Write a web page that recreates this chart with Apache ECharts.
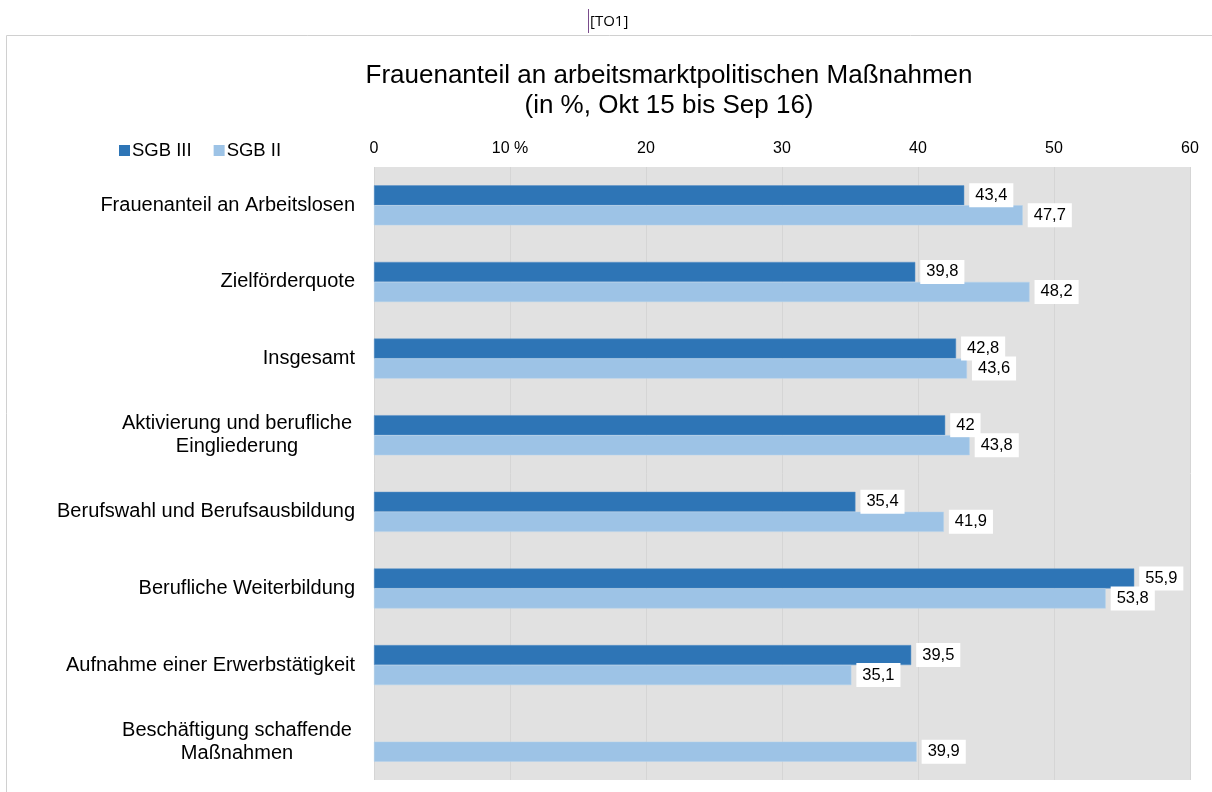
<!DOCTYPE html>
<html>
<head>
<meta charset="utf-8">
<script src="https://cdn.jsdelivr.net/npm/echarts@6/dist/echarts.min.js"></script>
<style>
    html, body { margin: 0; padding: 0; background: #fff; }
    #chart { width: 1212px; height: 792px; }
</style>
</head>
<body>
<div id="chart"></div>
<script>
    "use strict";
    var categories = [
        "Frauenanteil an Arbeitslosen",
        "Zielförderquote",
        "Insgesamt",
        "Aktivierung und berufliche\nEingliederung",
        "Berufswahl und Berufsausbildung",
        "Berufliche Weiterbildung",
        "Aufnahme einer Erwerbstätigkeit",
        "Beschäftigung schaffende\nMaßnahmen"
    ];
    var sgb3 = [43.4, 39.8, 42.8, 42, 35.4, 55.9, 39.5, null];
    var sgb2 = [47.7, 48.2, 43.6, 43.8, 41.9, 53.8, 35.1, 39.9];
    var seriesNames = ["SGB III", "SGB II"];
    var fontFam = "'Liberation Sans', Arial, sans-serif";

    // Datenbeschriftung mit Komma
    var labelOpt = {
        show: true,
        position: "right",
        distance: 5,
        color: "#000",
        fontSize: 16.5,
        fontFamily: fontFam,
        backgroundColor: "#fff",
        padding: [4, 6, 3, 6],
        formatter: function (p) {
            return String(p.value).replace(".", ",");
        }
    };

    var chart = echarts.init(document.getElementById("chart"));
    chart.setOption({
        animation: false,
        color: ["#2E75B6", "#9DC3E6"],
        textStyle: { fontFamily: fontFam },
        title: {
            text: "Frauenanteil an arbeitsmarktpolitischen Maßnahmen\n(in %, Okt 15 bis Sep 16)",
            left: 664,
            top: 56,
            textAlign: "center",
            textStyle: {
                fontSize: 26,
                fontWeight: "normal",
                color: "#000",
                lineHeight: 30,
                fontFamily: fontFam
            }
        },
        legend: {
            left: 114,
            top: 136,
            itemWidth: 11,
            itemHeight: 11,
            itemGap: 22,
            icon: "rect",
            itemStyle: { borderWidth: 0 },
            textStyle: { fontSize: 18.5, color: "#000", padding: [0, 0, 0, -3] },
            data: seriesNames
        },
        grid: {
            left: 374,
            right: 22,
            top: 167,
            bottom: 12,
            show: true,
            backgroundColor: "#E1E1E1",
            borderWidth: 0
        },
        xAxis: {
            type: "value",
            position: "top",
            min: 0,
            max: 60,
            interval: 10,
            axisLine: { show: false },
            axisTick: { show: false },
            axisLabel: {
                color: "#000",
                fontSize: 16,
                margin: 10,
                formatter: function (v) {
                    return v === 10 ? "10 %" : String(v);
                }
            },
            splitLine: { show: true, lineStyle: { color: "#D5D5D5", width: 1 } }
        },
        yAxis: {
            type: "category",
            inverse: true,
            data: categories,
            axisLine: { show: false },
            axisTick: { show: false },
            axisLabel: {
                color: "#000",
                fontSize: 20,
                margin: 19,
                lineHeight: 23,
                formatter: function (v) {
                    if (v.indexOf("\n") < 0) return v;
                    return v.split("\n").map(function (s) {
                        return "{c|" + s + "}";
                    }).join("\n");
                },
                rich: {
                    c: { width: 236, align: "center", fontSize: 20, lineHeight: 23, color: "#000" }
                }
            }
        },
        series: [
            {
                name: seriesNames[0],
                type: "bar",
                data: sgb3,
                barWidth: 20,
                barGap: "0%",
                label: labelOpt,
                itemStyle: { borderColor: "#5B93C8", borderWidth: 0.5 }
            },
            {
                name: seriesNames[1],
                type: "bar",
                data: sgb2,
                barWidth: 20,
                barGap: "0%",
                label: labelOpt,
                itemStyle: { borderColor: "#B5D2EC", borderWidth: 0.5 }
            }
        ],
        graphic: [
            {
                type: "polyline",
                shape: { points: [[6.5, 792], [6.5, 35.5], [1212, 35.5]] },
                style: { stroke: "#D0D0D0", lineWidth: 1, fill: null }
            },
            {
                type: "line",
                shape: { x1: 588.5, y1: 9, x2: 588.5, y2: 33 },
                style: { stroke: "#7A4C8C", lineWidth: 1 }
            },
            {
                type: "text",
                left: 590,
                top: 14,
                style: { text: "[TO1]", fontSize: 15, fill: "#000", fontFamily: "'Open Sans', sans-serif" }
            }
        ]
    });
</script>
</body>
</html>
